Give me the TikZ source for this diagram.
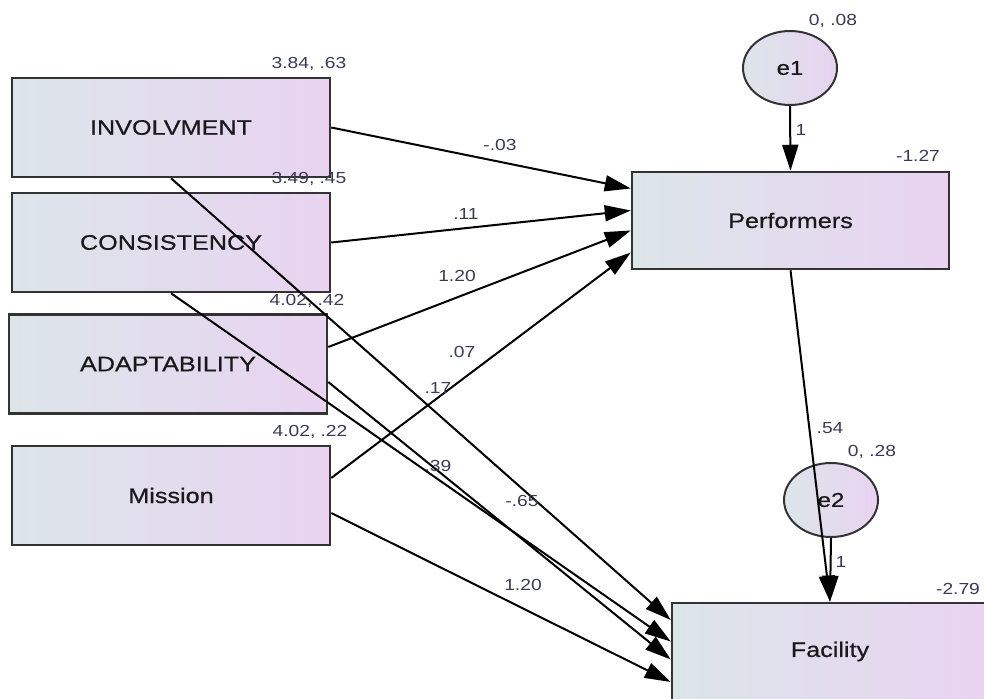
\documentclass[tikz,border=0pt]{standalone}
\usepackage{fontspec}
\usetikzlibrary{arrows.meta,shapes.geometric}
\newfontfamily\amosfont{Liberation Sans}[FakeStretch=1.2]
\newfontfamily\amosbold{Liberation Sans}[FakeStretch=1.2,FakeBold=0.6]
\definecolor{shadeL}{HTML}{DCE5EA}
\definecolor{shadeR}{HTML}{E9D3F1}
\definecolor{numcol}{HTML}{3A3A58}
\tikzset{
  var/.style={draw=black!80,line width=2.5pt,left color=shadeL,right color=shadeR,
    minimum width=318pt,minimum height=99pt,inner sep=0pt,
    font=\amosbold\fontsize{21}{24}\selectfont,text=black!90},
  err/.style={ellipse,draw=black!80,line width=2pt,left color=shadeL,right color=shadeR,
    minimum width=94pt,minimum height=74pt,inner sep=0pt,
    font=\amosbold\fontsize{20}{24}\selectfont,text=black!90},
  num/.style={font=\amosfont\fontsize{16}{18}\selectfont,text=numcol,inner sep=0pt},
  path/.style={line width=2pt,-{Triangle[length=26pt,width=16pt]}}
}
\begin{document}
\begin{tikzpicture}[x=1pt,y=-1pt]
		\useasboundingbox (0,0) rectangle (984,698);
		
		\node (inv) [var] at (171,127.5) {INVOLVMENT};
		\node (cons) [var] at (171,242.5) {CONSISTENCY};
		\node (adap) [var] at (168,364) {ADAPTABILITY};
		\node (miss) [var] at (171,495.5) {Mission};
		\node (perf) [var,minimum width=317pt,minimum height=97pt] at (790.5,220.5) {Performers};
		\node (fac) [var,minimum width=316pt,minimum height=97pt] at (830,651.5) {Facility};
		\node (e1) [err] at (790,68) {e1};
		\node (e2) [err] at (831,500) {e2};
		
		% paths into Performers
		\draw [path] (inv.east)--([yshift=32pt]perf.west);
		\draw [path] (cons.east)--([yshift=10pt]perf.west);
		\draw [path] ([yshift=17pt]adap.east)--([yshift=-10pt]perf.west);
		\draw [path] ([yshift=17.5pt]miss.east)--([yshift=-32pt]perf.west);
		
		% paths into Facility
		\draw [path] (inv.south)--([yshift=31.5pt]fac.west);
		\draw [path] (cons.south)--([yshift=10pt]fac.west);
		\draw [path] ([yshift=-18pt]adap.east)--([yshift=-8pt]fac.west);
		\draw [path] ([yshift=-17.5pt]miss.east)--([yshift=-30.5pt]fac.west);
		
		\draw [path] (perf.south)--(fac.north);
		\draw [path] (e1.south)--(perf.north);
		\draw [path] (e2.south)--(fac.north);
		
		% estimates
		\node (minv) [num] at (309,64) {3.84, .63};
		\node (mcons) [num] at (309,179) {3.49, .45};
		\node (madap) [num] at (307,301) {4.02, .42};
		\node (mmiss) [num] at (310,432) {4.02, .22};
		\node (me1) [num] at (833,21) {0, .08};
		\node (iperf) [num] at (918,156) {-1.27};
		\node (me2) [num] at (872,452) {0, .28};
		\node (ifac) [num] at (958,589) {-2.79};
		\node (w1) [num] at (801,130) {1};
		\node (w2) [num] at (841,562) {1};
		\node (bpf) [num] at (830,428) {.54};
		\node (b1) [num] at (500,145) {-.03};
		\node (b2) [num] at (466,214) {.11};
		\node (b3) [num] at (457,276) {1.20};
		\node (b4) [num] at (462,352) {.07};
		\node (b5) [num] at (438,388) {.17};
		\node (b6) [num] at (438,466) {.39};
		\node (b7) [num] at (522,501) {-.65};
		\node (b8) [num] at (523,585) {1.20};
	\end{tikzpicture}
\end{document}
